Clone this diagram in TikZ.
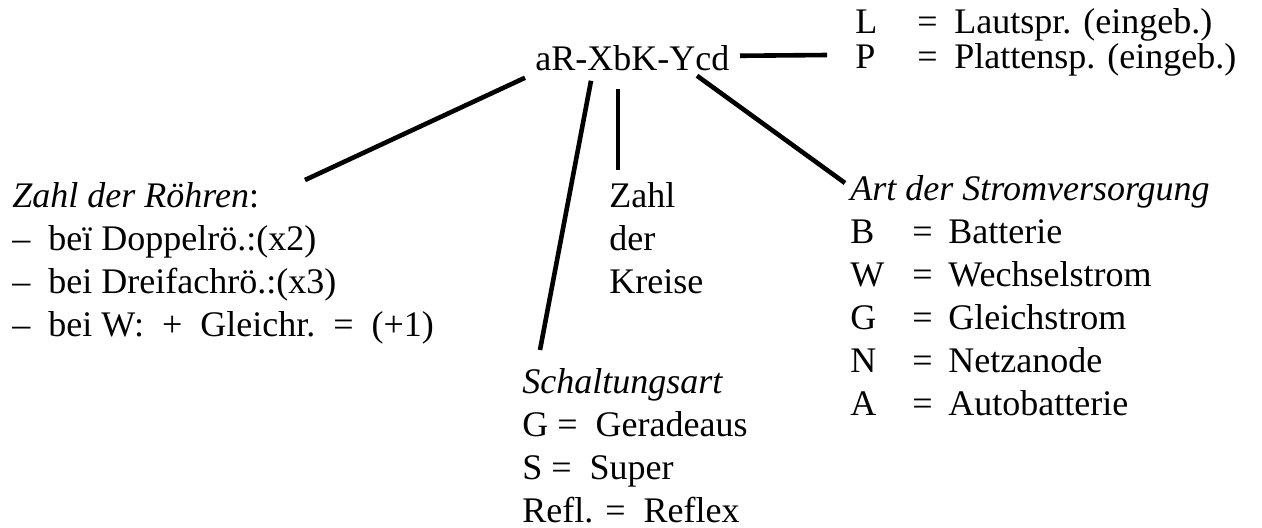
\documentclass[tikz,border=0pt]{standalone}
\usepackage{fontspec}
\setmainfont{LiberationSerif}[Extension=.ttf,UprightFont=*-Regular,ItalicFont=*-Italic,BoldFont=*-Bold]
\begin{document}
\begin{tikzpicture}[x=0.5pt,y=-0.5pt,
    every node/.style={inner sep=0pt,anchor=base west,font=\rmfamily\fontsize{18}{21.5}\selectfont},
    zweig/.style={line width=2.3pt}]
  \useasboundingbox (0,0) rectangle (1262,527);
  \node (typ) at (535,70) {aR-XbK-Ycd};
  \node (zusatz) at (855,33) {\def\arraystretch{.82}%
    \begin{tabular}[t]{@{}p{31pt}@{}p{18.5pt}@{}l@{}}
      L & = & Lautspr. (eingeb.)\\
      P & = & Plattensp. (eingeb.)
    \end{tabular}};
  \node[align=left] (roehren) at (12,336) {\textit{Zahl der Röhren}:\\
    --~~beï Doppelrö.:(x2)\\
    --~~bei Dreifachrö.:(x3)\\
    --~~bei W:\enspace+\enspace Gleichr.\enspace=\enspace(+1)};
  \node[align=left] (schaltung) at (522,522) {\textit{Schaltungsart}\\
    G =\enspace Geradeaus\\
    S =\enspace Super\\
    Refl. =\enspace Reflex};
  \node[align=left] (kreise) at (609,293) {Zahl\\der\\Kreise};
  \node (strom) at (850,200) {%
    \begin{tabular}[t]{@{}p{31pt}@{}p{18pt}@{}l@{}}
      \multicolumn{3}{@{}l@{}}{\textit{Art der Stromversorgung}}\\
      B & = & Batterie\\
      W & = & Wechselstrom\\
      G & = & Gleichstrom\\
      N & = & Netzanode\\
      A & = & Autobatterie
    \end{tabular}};
  \draw[zweig] ([shift={(-10,7)}]typ.south west) -- ([shift={(293,-156)}]roehren.base west);
  \draw[zweig] ([shift={(56,10)}]typ.south west) -- ([shift={(18,-172)}]schaltung.base west);
  \draw[zweig] ([shift={(83,18)}]typ.south west) -- ([shift={(9,-123)}]kreise.base west);
  \draw[zweig] ([shift={(162,5)}]typ.south west) -- ([shift={(-5,-17)}]strom.base west);
  \draw[zweig] ([shift={(205,-15)}]typ.south west) -- ([shift={(-28,22)}]zusatz.base west);
\end{tikzpicture}
\end{document}
